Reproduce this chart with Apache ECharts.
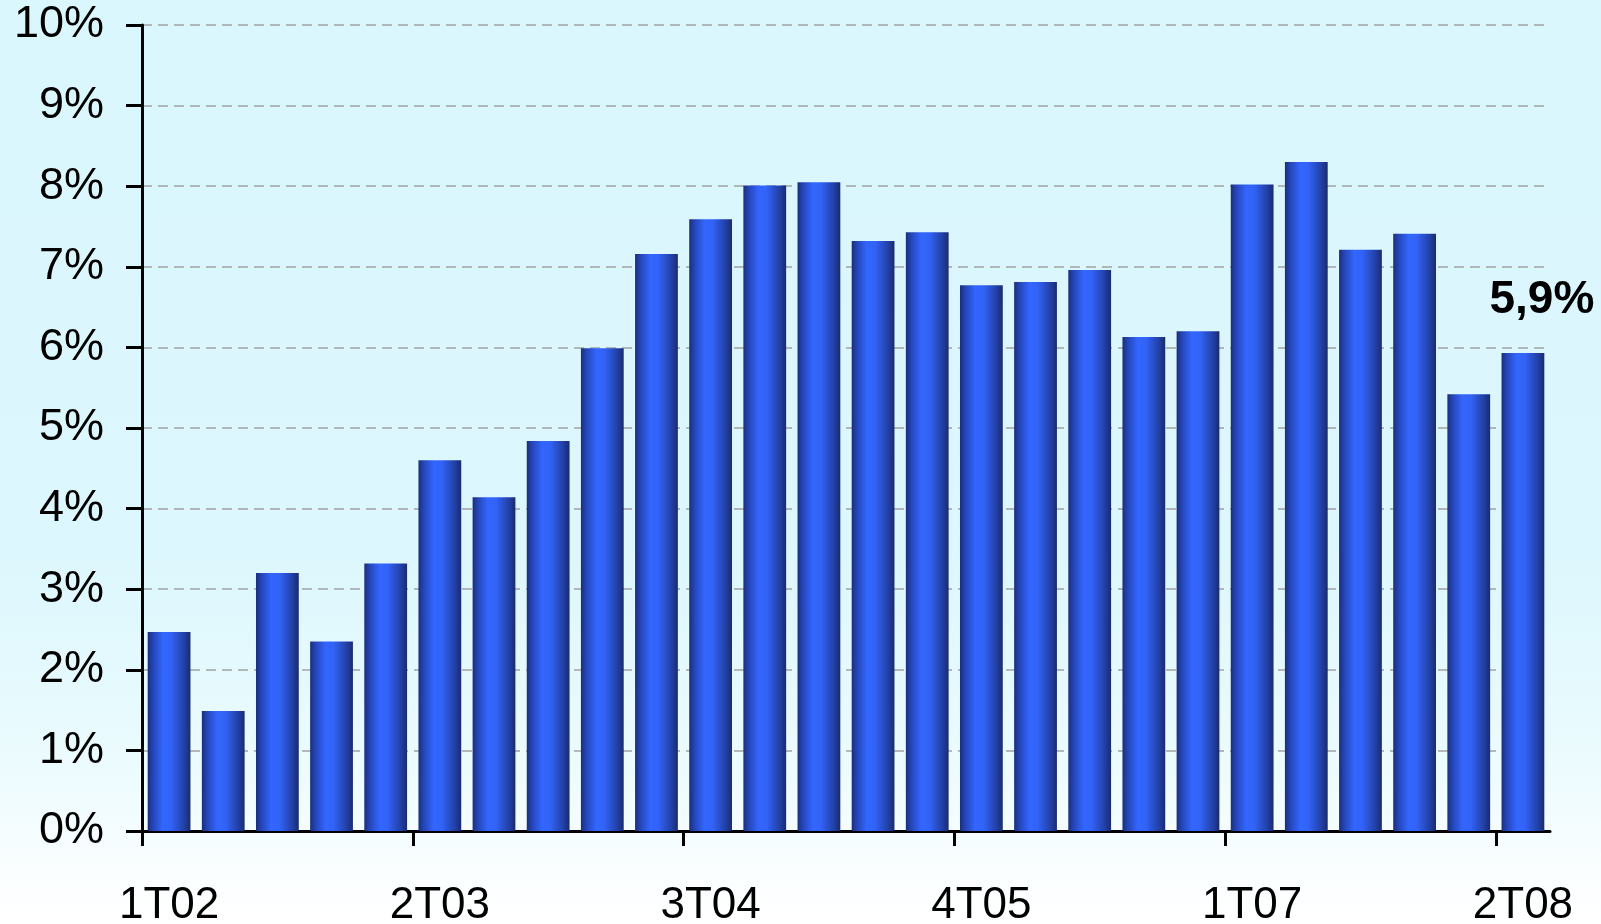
<!DOCTYPE html>
<html>
<head>
<meta charset="utf-8">
<script src="https://cdn.jsdelivr.net/npm/echarts@6/dist/echarts.min.js"></script>
<style>
html,body{margin:0;padding:0;width:1601px;height:924px;overflow:hidden;background:#fff;}
#c{width:1601px;height:924px;}
</style>
</head>
<body>
<div id="c"></div>
<script>
const categories = [
  '1T02','2T02','3T02','4T02',
  '1T03','2T03','3T03','4T03',
  '1T04','2T04','3T04','4T04',
  '1T05','2T05','3T05','4T05',
  '1T06','2T06','3T06','4T06',
  '1T07','2T07','3T07','4T07',
  '1T08','2T08'
];
const values = [
  2.47, 1.49, 3.20, 2.35,
  3.32, 4.60, 4.14, 4.84,
  5.99, 7.16, 7.59, 8.01,
  8.05, 7.32, 7.43, 6.77,
  6.81, 6.96, 6.13, 6.20,
  8.02, 8.30, 7.21, 7.41,
  5.42, 5.93
];
const lastLabel = '5,9%';
const yTicks = [0,1,2,3,4,5,6,7,8,9,10];

// boundaries between categories (one more than categories), used only for tick marks
const boundaries = categories.concat(['']);

const chart = echarts.init(document.getElementById('c'), null, {renderer:'canvas'});

const barGradient = new echarts.graphic.LinearGradient(0,0,1,0,[
  {offset:0, color:'#1b2e7a'},
  {offset:0.12, color:'#2445b6'},
  {offset:0.36, color:'#3366ff'},
  {offset:0.55, color:'#3263f6'},
  {offset:0.85, color:'#2240a6'},
  {offset:1, color:'#1a2b6e'}
]);

const data = values.map((v,i) => {
  if (i === values.length - 1) {
    return {
      value: v,
      label: {
        show: true,
        position: 'top',
        distance: 30,
        offset: [19, 0],
        formatter: lastLabel,
        fontFamily: 'Liberation Sans, Arial, sans-serif',
        fontWeight: 'bold',
        fontSize: 46,
        color: '#000'
      }
    };
  }
  return v;
});

chart.setOption({
  animation: false,
  backgroundColor: new echarts.graphic.LinearGradient(0,0,0,1,[
    {offset:0, color:'#daf7fd'},
    {offset:0.6, color:'#dcf7fd'},
    {offset:0.82, color:'#ebfbfe'},
    {offset:0.95, color:'#fbfeff'},
    {offset:1, color:'#ffffff'}
  ]),
  grid: {left:142, right:51, top:25, bottom:93, containLabel:false, outerBoundsMode:'none'},
  xAxis: [{
    type: 'category',
    data: categories,
    boundaryGap: true,
    axisLine: {show:true, lineStyle:{color:'#000', width:3}},
    axisTick: {show:false},
    axisLabel: {
      interval: 4,
      margin: 53,
      fontFamily: 'Liberation Sans, Arial, sans-serif',
      fontSize: 44,
      color: '#000'
    },
    splitLine: {show:false}
  }, {
    type: 'category',
    data: boundaries,
    boundaryGap: false,
    position: 'bottom',
    axisLine: {show:false},
    axisTick: {show:true, interval:4, length:15, lineStyle:{color:'#000', width:3}},
    axisLabel: {show:false, interval:4, showMaxLabel:false},
    splitLine: {show:false}
  }],
  yAxis: {
    type: 'value',
    min: yTicks[0],
    max: yTicks[yTicks.length-1],
    interval: 1,
    axisLine: {show:true, lineStyle:{color:'#000', width:3}},
    axisTick: {show:true, length:16, lineStyle:{color:'#000', width:3}},
    axisLabel: {
      margin: 38,
      padding: [8,0,0,0],
      formatter: v => v + '%',
      fontFamily: 'Liberation Sans, Arial, sans-serif',
      fontSize: 45,
      color: '#000'
    },
    splitLine: {show:true, lineStyle:{color:'#a3a3a3', width:1.5, type:[10,6]}}
  },
  series: [{
    type: 'bar',
    data: data,
    xAxisIndex: 0,
    barCategoryGap: '21%',
    itemStyle: {color: barGradient},
    z: 3
  }]
});
</script>
</body>
</html>
